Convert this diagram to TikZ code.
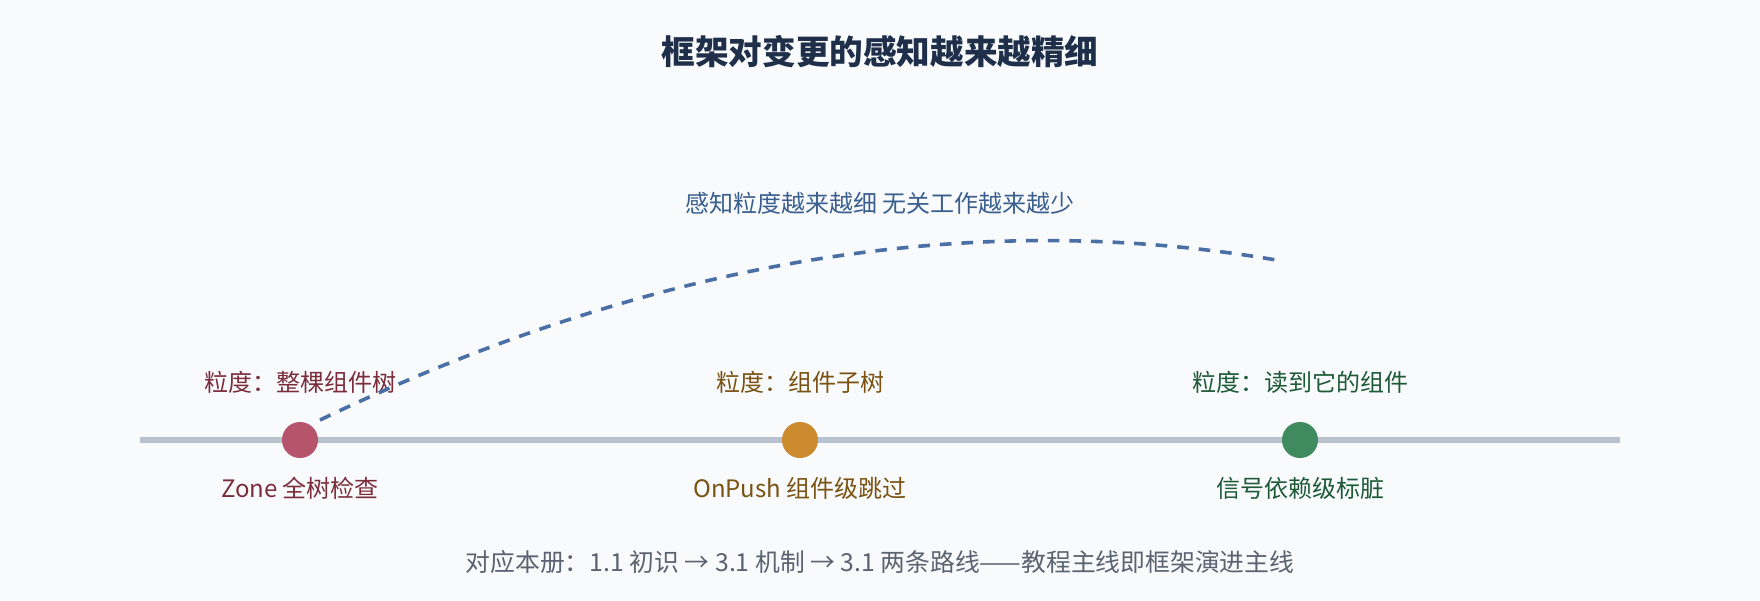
\documentclass[tikz,border=0pt]{standalone}
\usepackage{fontspec}
\setmainfont{Noto Sans CJK SC}
\usetikzlibrary{positioning}
\definecolor{bgc}{HTML}{F8FAFC}
\definecolor{titlec}{HTML}{1F2F4A}
\definecolor{trendc}{HTML}{4A6FA5}
\definecolor{subc}{HTML}{3A5F8E}
\definecolor{axisc}{HTML}{B8C2CF}
\definecolor{footc}{HTML}{5B6270}
\definecolor{zonec}{HTML}{B5546B}
\definecolor{zonet}{HTML}{7B2D3B}
\definecolor{pushc}{HTML}{CC8A2E}
\definecolor{pusht}{HTML}{7A5212}
\definecolor{sigc}{HTML}{3F8A5F}
\definecolor{sigt}{HTML}{1E5A38}
\begin{document}
\begin{tikzpicture}[x=0.5pt, y=-0.5pt,
  dot/.style={circle, fill=#1, inner sep=0pt, minimum size=18pt},
  lbl/.style={text=#1, inner sep=0pt, text height=10.5pt, text depth=1.3pt, font=\fontsize{12}{14}\selectfont},
  trend/.style={draw=trendc, line width=1.8pt, dash pattern=on 5.8pt off 5pt}]
\fill[bgc] (0,0) rectangle (1760,600);
\node[font=\fontsize{16.8}{20}\selectfont\bfseries, text=titlec] (title) at (880,52) {框架对变更的感知越来越精细};
\coordinate (axisL) at (140,440);
\coordinate (axisR) at (1620,440);
\draw[axisc, line width=3pt] (axisL) -- (axisR);
\node[dot=zonec] (zone) at (300,440) {};
\node[dot=pushc] (push) at (800,440) {};
\node[dot=sigc] (sig) at (1300,440) {};
\node[lbl=zonet, above=13.6pt of zone] (zoneG) {粒度：整棵组件树};
\node[lbl=pusht, above=13.6pt of push] (pushG) {粒度：组件子树};
\node[lbl=sigt, above=13.6pt of sig] (sigG) {粒度：读到它的组件};
\node[lbl=zonet, below=8.6pt of zone] (zoneN) {Zone 全树检查};
\node[lbl=pusht, below=8.6pt of push] (pushN) {OnPush 组件级跳过};
\node[lbl=sigt, below=8.6pt of sig] (sigN) {信号依赖级标脏};
\coordinate (arcS) at (320,420);
\coordinate (arcE) at (1282,261);
\draw[trend] (arcS) .. controls (653,260) and (973,207) .. (arcE);
\node[lbl=subc] (trendT) at (880,203) {感知粒度越来越细 无关工作越来越少};
\node[lbl=footc, font=\fontsize{12.4}{15}\selectfont] (foot) at (880,562) {对应本册：1.1 初识 → 3.1 机制 → 3.1 两条路线——教程主线即框架演进主线};
\end{tikzpicture}
\end{document}
